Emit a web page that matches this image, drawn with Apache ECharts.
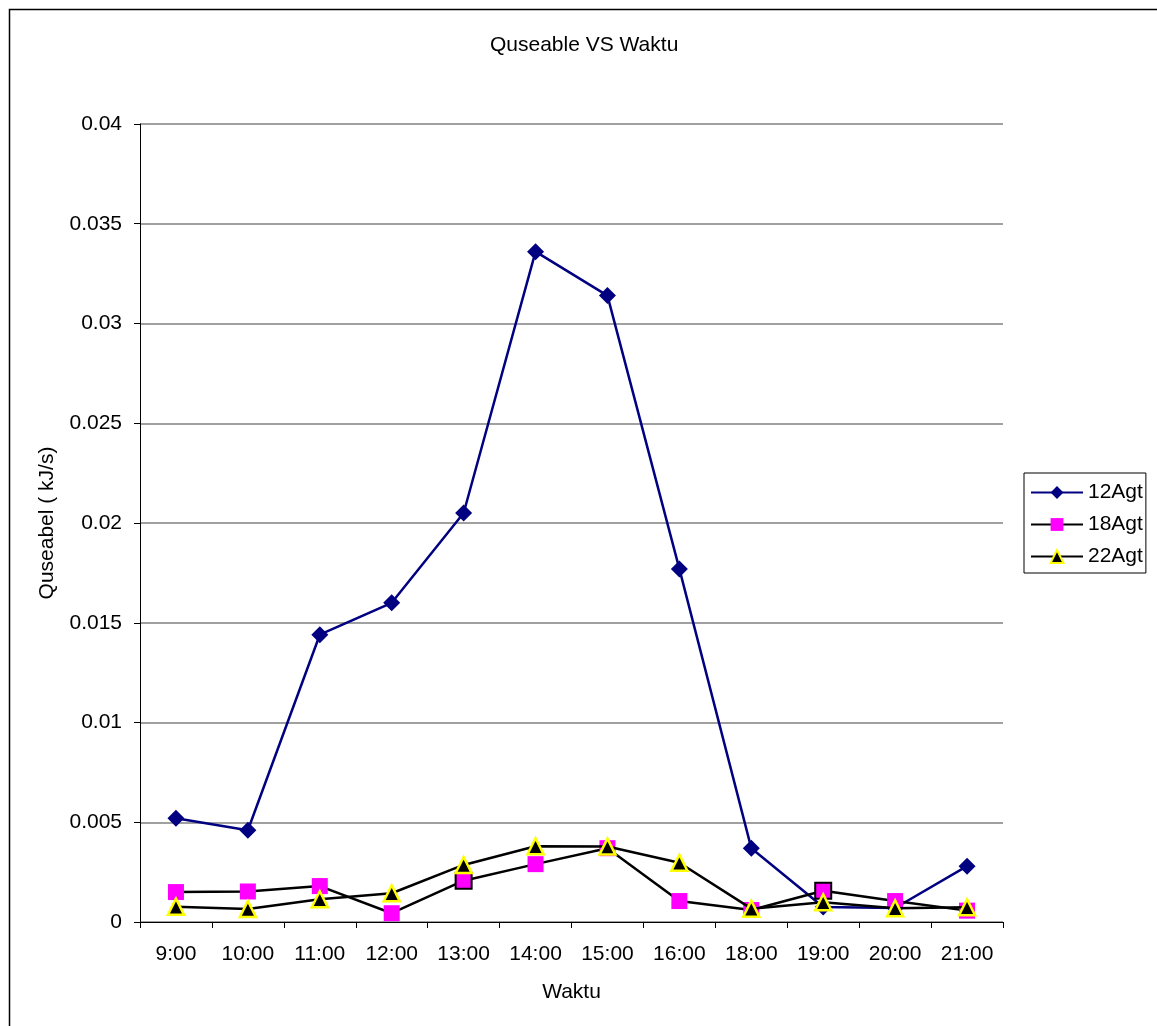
<!DOCTYPE html>
<html>
<head>
<meta charset="utf-8">
<script src="https://cdn.jsdelivr.net/npm/echarts@6/dist/echarts.min.js"></script>
<style>html,body{margin:0;padding:0;background:#fff;}#c{width:1157px;height:1026px;}</style>
</head>
<body>
<div id="c"></div>
<script>
const categories = ['9:00','10:00','11:00','12:00','13:00','14:00','15:00','16:00','18:00','19:00','20:00','21:00'];
const agt12 = [0.0052, 0.0046, 0.0144, 0.0160, 0.0205, 0.0336, 0.0314, 0.0177, 0.0037, 0.00075, 0.0007, 0.0028];
const agt18 = [0.0015, 0.00153, 0.0018, 0.00044, 0.00207, 0.0029, 0.0037, 0.00105, 0.0006, 0.00157, 0.00105, 0.00057];
const agt22 = [0.00077, 0.00065, 0.00114, 0.00144, 0.00286, 0.0038, 0.00378, 0.00297, 0.00067, 0.00099, 0.00069, 0.00074];
const yTicks = [0, 0.005, 0.01, 0.015, 0.02, 0.025, 0.03, 0.035, 0.04];
const outlined18 = [4, 9];

const FONT = '"Liberation Sans", Arial, sans-serif';
const FS = 21;
const chart = echarts.init(document.getElementById('c'), null, {renderer: 'canvas'});
chart.setOption({
  backgroundColor: '#fff',
  animation: false,
  textStyle: {fontFamily: FONT, color: '#000'},
  title: {
    text: 'Quseable VS Waktu',
    left: 490, top: 35, padding: 0,
    textStyle: {fontFamily: FONT, fontSize: FS, fontWeight: 'normal', color: '#000'}
  },
  graphic: [{
    type: 'rect', left: 7, top: 7,
    shape: {width: 1170, height: 1040},
    style: {fill: 'none', stroke: '#000', lineWidth: 1.5},
    silent: true
  }],
  legend: {
    orient: 'vertical',
    left: 1024, top: 473,
    padding: [9, 3, 6, 6],
    itemGap: 11,
    itemWidth: 52, itemHeight: 16,
    borderColor: '#000', borderWidth: 1,
    textStyle: {fontFamily: FONT, fontSize: FS, color: '#000'},
    data: ['12Agt', '18Agt', '22Agt']
  },
  grid: {left: 140, right: 154, top: 124, bottom: 104},
  xAxis: {
    type: 'category',
    data: categories,
    boundaryGap: true,
    name: 'Waktu', nameLocation: 'middle', nameGap: 60,
    nameTextStyle: {fontFamily: FONT, fontSize: FS, color: '#000'},
    axisLine: {lineStyle: {color: '#000', width: 1}},
    axisTick: {show: true, length: 6, lineStyle: {color: '#000'}},
    axisLabel: {fontFamily: FONT, fontSize: FS, color: '#000', margin: 22},
    splitLine: {show: false}
  },
  yAxis: {
    type: 'value',
    min: 0, max: 0.04, interval: 0.005,
    name: 'Quseabel ( kJ/s)', nameLocation: 'middle', nameGap: 82, nameRotate: 90,
    nameTextStyle: {fontFamily: FONT, fontSize: FS, color: '#000'},
    axisLine: {show: true, lineStyle: {color: '#000', width: 1}},
    axisTick: {show: true, length: 6, lineStyle: {color: '#000'}},
    axisLabel: {fontFamily: FONT, fontSize: FS, color: '#000', margin: 18,
      formatter: v => { const t = yTicks.find(x => Math.abs(x - v) < 1e-9); return t === undefined ? '' : String(+t.toFixed(3)); }},
    splitLine: {show: true, lineStyle: {color: '#808080', width: 1.5}}
  },
  series: [
    {
      name: '12Agt', type: 'line', data: agt12,
      symbol: 'diamond', symbolSize: 17,
      lineStyle: {color: '#000080', width: 2.5},
      itemStyle: {color: '#000080'},
      z: 2
    },
    {
      name: '18Agt', type: 'line',
      data: agt18.map((v, i) => outlined18.includes(i)
        ? {value: v, itemStyle: {borderColor: '#000', borderWidth: 2}} : v),
      symbol: 'rect', symbolSize: 16,
      lineStyle: {color: '#000', width: 2.5},
      itemStyle: {color: '#ff00ff'},
      z: 3
    },
    {
      name: '22Agt', type: 'line', data: agt22,
      symbol: 'triangle', symbolSize: 16,
      lineStyle: {color: '#000', width: 2.5},
      itemStyle: {color: '#000', borderColor: '#ffff00', borderWidth: 2.5},
      z: 4
    }
  ]
});
</script>
</body>
</html>
